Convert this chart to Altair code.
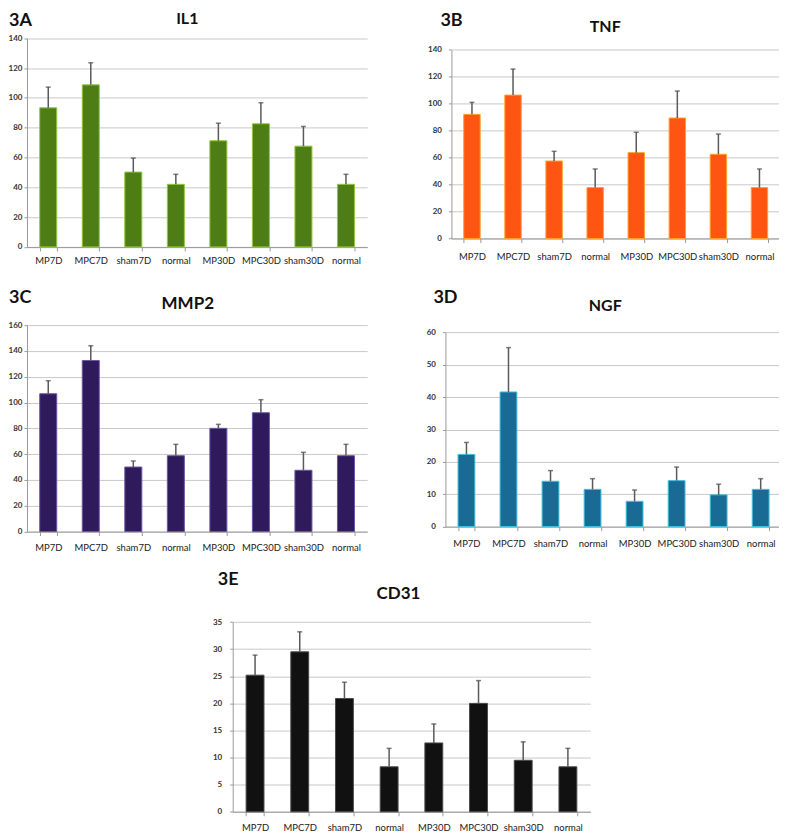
import json
import altair as alt
import pandas as pd

categories = ["MP7D", "MPC7D", "sham7D", "normal", "MP30D", "MPC30D", "sham30D", "normal"]

il1_mean = [93.3, 108.7, 50.2, 42.0, 71.2, 82.6, 67.6, 42.0]
il1_upper = [107.2, 123.5, 59.6, 48.7, 83.0, 96.7, 80.8, 48.7]
il1_ticks = [0, 20, 40, 60, 80, 100, 120, 140]

tnf_mean = [92.1, 106.4, 57.5, 37.8, 63.7, 89.4, 62.5, 37.8]
tnf_upper = [101.0, 125.7, 64.7, 51.6, 78.8, 109.4, 77.5, 51.6]
tnf_ticks = [0, 20, 40, 60, 80, 100, 120, 140]

mmp2_mean = [106.8, 132.6, 50.0, 58.8, 80.0, 92.1, 47.5, 58.8]
mmp2_upper = [116.9, 144.0, 54.7, 67.6, 83.1, 102.2, 61.4, 67.6]
mmp2_ticks = [0, 20, 40, 60, 80, 100, 120, 140, 160]

ngf_mean = [22.3, 41.6, 14.0, 11.5, 7.8, 14.2, 9.8, 11.5]
ngf_upper = [26.0, 55.3, 17.3, 14.8, 11.3, 18.4, 13.1, 14.8]
ngf_ticks = [0, 10, 20, 30, 40, 50, 60]

cd31_mean = [25.2, 29.5, 20.9, 8.3, 12.7, 20.0, 9.5, 8.3]
cd31_upper = [28.9, 33.2, 23.9, 11.7, 16.2, 24.2, 12.9, 11.7]
cd31_ticks = [0, 5, 10, 15, 20, 25, 30, 35]

LABEL_EXPR = json.dumps(categories) + "[datum.value]"
FONT = "Lato"
W, H = 771, 810


def panel(tag, title, means, uppers, yticks, fill, edge,
          x_left, x_right, y_top, y_bottom, ylab_pad, xlab_pad,
          tag_x, tag_y, title_x, title_y, title_size):
    df = pd.DataFrame({
        "pos": list(range(len(categories))),
        "mean": means,
        "upper": uppers,
    })
    base = alt.Chart(df)
    xaxis = alt.Axis(
        title=None, orient="bottom", labelExpr=LABEL_EXPR, labelAngle=0, labelOverlap=False,
        labelFont=FONT, labelFontSize=9.5, labelColor="#1a1a1a",
        labelPadding=xlab_pad, tickBand="extent", tickSize=4,
        tickColor="#9a9a9a", domainColor="#9a9a9a", grid=False,
        offset=y_bottom - H,
    )
    xscale = alt.Scale(range=[x_left, x_right], paddingInner=0.6, paddingOuter=0.3)
    x = alt.X("pos:O", scale=xscale, axis=xaxis)
    yscale = alt.Scale(domain=[yticks[0], yticks[-1]], range=[y_bottom, y_top], nice=False)
    yaxis = alt.Axis(
        title=None, orient="left", values=yticks, format="d", labelOverlap=False,
        labelFont=FONT, labelFontSize=8, labelFontWeight="bold", labelColor="#333333",
        labelPadding=ylab_pad, tickSize=3, tickColor="#9a9a9a", domainColor="#9a9a9a",
        grid=True, gridColor="#c9c9c9", gridWidth=1, offset=-x_left,
    )
    bars = base.mark_bar(color=fill, stroke=edge, strokeWidth=1).encode(
        x=x, y=alt.Y("mean:Q", scale=yscale, axis=yaxis))
    err = base.mark_rule(color="#5a5a5a", strokeWidth=1.5).encode(
        x=x, y=alt.Y("mean:Q", scale=yscale, axis=yaxis), y2="upper:Q")
    cap = base.mark_tick(color="#4a4a4a", thickness=1.5, size=5, orient="horizontal").encode(
        x=x, y=alt.Y("upper:Q", scale=yscale, axis=yaxis))
    tag_text = alt.Chart(pd.DataFrame({"t": [tag]})).mark_text(
        align="left", baseline="alphabetic", font=FONT, fontSize=18, fontWeight="bold",
        color="#111111").encode(text="t:N", x=alt.value(tag_x), y=alt.value(tag_y))
    title_text = alt.Chart(pd.DataFrame({"t": [title]})).mark_text(
        align="center", baseline="alphabetic", font=FONT, fontSize=title_size, fontWeight="bold",
        color="#111111").encode(text="t:N", x=alt.value(title_x), y=alt.value(title_y))
    return alt.layer(bars, err, cap, tag_text, title_text)


pa = panel("3A", "IL1", il1_mean, il1_upper, il1_ticks, "#4e7d16", "#93c83e",
           18, 358.7, 29.7, 238.7, 2, 4.5, 0, 17, 178.5, 15, 16)
pb = panel("3B", "TNF", tnf_mean, tnf_upper, tnf_ticks, "#ff5512", "#ffa12e",
           443, 772, 41.3, 230.3, 7, 8.5, 432, 17, 597, 23, 16)
pc = panel("3C", "MMP2", mmp2_mean, mmp2_upper, mmp2_ticks, "#2f1a5c", "#6b55a3",
           18, 358.7, 317, 523.7, 2, 6.5, 0, 295, 179, 301, 17)
pd_ = panel("3D", "NGF", ngf_mean, ngf_upper, ngf_ticks, "#1a6a96", "#3fbfdf",
            437, 773.7, 324.3, 518.7, 7, 7.5, 425, 295, 597, 303, 16)
pe = panel("3E", "CD31", cd31_mean, cd31_upper, cd31_ticks, "#111111", "#4a4a4a",
           224, 582, 614.3, 804.3, 8, 7, 209, 577, 390, 591, 17)

chart = alt.layer(pa, pb, pc, pd_, pe).resolve_scale(
    x="independent", y="independent"
).resolve_axis(
    x="independent", y="independent"
).properties(
    width=W, height=H, padding=0, background="white"
).configure_view(stroke=None)

chart.save("out.html", embed_options={"renderer": "svg", "actions": False})
